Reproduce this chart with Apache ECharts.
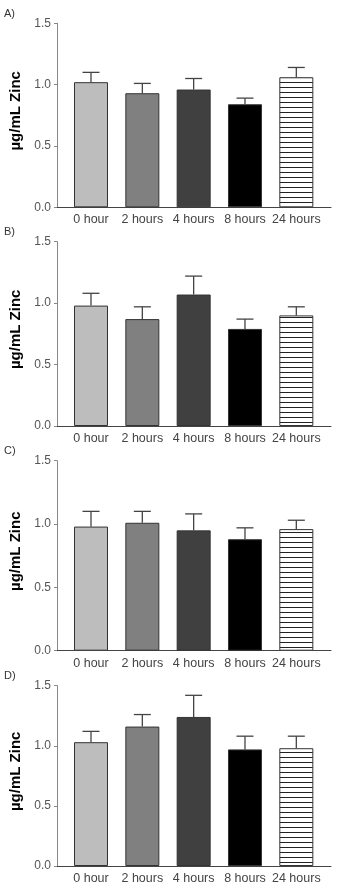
<!DOCTYPE html>
<html>
<head>
<meta charset="utf-8">
<script src="https://cdn.jsdelivr.net/npm/echarts@6/dist/echarts.min.js"></script>
<style>
  html, body { margin: 0; padding: 0; background: #fff; }
  #chart { width: 362px; height: 885px; }
</style>
</head>
<body>
<div id="chart"></div>
<script>
// time points
const categories = ['0 hour', '2 hours', '4 hours', '8 hours', '24 hours'];
const panelLabels = ['A)', 'B)', 'C)', 'D)'];

// mean zinc (µg/mL) and SEM, per panel
const meanA = [1.02, 0.93, 0.96, 0.84, 1.06];
const semA = [0.08, 0.08, 0.09, 0.05, 0.08];
const meanB = [0.98, 0.87, 1.07, 0.79, 0.90];
const semB = [0.10, 0.10, 0.15, 0.08, 0.07];
const meanC = [0.98, 1.01, 0.95, 0.88, 0.96];
const semC = [0.12, 0.09, 0.13, 0.09, 0.07];
const meanD = [1.03, 1.16, 1.24, 0.97, 0.98];
const semD = [0.09, 0.10, 0.18, 0.11, 0.10];

const means = [meanA, meanB, meanC, meanD];
const sems = [semA, semB, semC, semD];

// layout of each panel (px)
const gridTops = [23.3, 241.7, 460.7, 685.7];
const gridHeights = [184, 184.3, 190, 184.3];

// horizontal stripes for the last bar
function stripes() {
	var c = document.createElement('canvas');
	c.width = 4;
	c.height = 5;
	var ctx = c.getContext('2d');
	ctx.fillStyle = '#fff';
	ctx.fillRect(0, 0, 4, 5);
	ctx.fillStyle = '#222';
	ctx.fillRect(0, 2, 4, 1);
	return c;
}
const fills = ['#bdbdbd', '#808080', '#404040', '#000000', { image: stripes(), repeat: 'repeat' }];

const font = 'Liberation Sans, Arial, sans-serif';
const grids = [], xAxes = [], yAxes = [], series = [], titles = [];

means.forEach(function(mean, p) {
	grids.push({ left: 57, width: 274, top: gridTops[p], height: gridHeights[p] });
	titles.push({
		text: panelLabels[p], left: 4, top: gridTops[p] - 15, padding: 0,
		textStyle: { fontFamily: font, fontSize: 11, fontWeight: 'normal', color: '#333' }
	});
	xAxes.push({
		gridIndex: p, type: 'value', min: -0.6624, max: 4.6757,
		splitLine: { show: false },
		axisLine: { onZero: false, lineStyle: { color: '#444', width: 1 } },
		axisTick: { show: false },
		axisLabel: {
			customValues: [0, 1, 2, 3, 4], margin: 6,
			fontFamily: font, fontSize: 12.5, color: '#444',
			formatter: function(v) { return categories[Math.round(v)]; }
		}
	});
	yAxes.push({
		gridIndex: p, type: 'value', min: 0, max: 1.5, interval: 0.5,
		name: 'µg/mL Zinc', nameLocation: 'middle', nameGap: 33, nameRotate: 90,
		nameTextStyle: {
			fontFamily: font, fontSize: 15, fontWeight: 'bold', color: '#000',
			padding: [0, 0, 0, 9]
		},
		splitLine: { show: false },
		axisLine: { show: true, onZero: false, lineStyle: { color: '#888', width: 1 } },
		axisTick: { show: true, length: 3, lineStyle: { color: '#888' } },
		axisLabel: {
			fontFamily: font, fontSize: 12, color: '#555', margin: 6,
			formatter: function(v) { return v.toFixed(1); }
		}
	});
	series.push({
		type: 'bar', xAxisIndex: p, yAxisIndex: p, barWidth: 34,
		data: mean.map(function(v, i) {
			return { value: [i, v], itemStyle: { color: fills[i] } };
		}),
		itemStyle: { borderColor: '#333', borderWidth: 1 },
		silent: true
	});
	series.push({
		type: 'custom', xAxisIndex: p, yAxisIndex: p, z: 1,
		data: mean.map(function(v, i) { return [i, v, v + sems[p][i]]; }),
		renderItem: function(params, api) {
			var lo = api.coord([api.value(0), api.value(1)]);
			var hi = api.coord([api.value(0), api.value(2)]);
			var style = { stroke: '#444', lineWidth: 1.3 };
			return {
				type: 'group',
				children: [
					{ type: 'line', shape: { x1: lo[0], y1: lo[1], x2: hi[0], y2: hi[1] }, style: style },
					{ type: 'line', shape: { x1: hi[0] - 8.5, y1: hi[1], x2: hi[0] + 8.5, y2: hi[1] }, style: style }
				]
			};
		}
	});
});

const chart = echarts.init(document.getElementById('chart'), null, { renderer: 'canvas' });
chart.setOption({
	animation: false,
	backgroundColor: '#fff',
	title: titles,
	grid: grids,
	xAxis: xAxes,
	yAxis: yAxes,
	series: series
});
</script>
</body>
</html>
